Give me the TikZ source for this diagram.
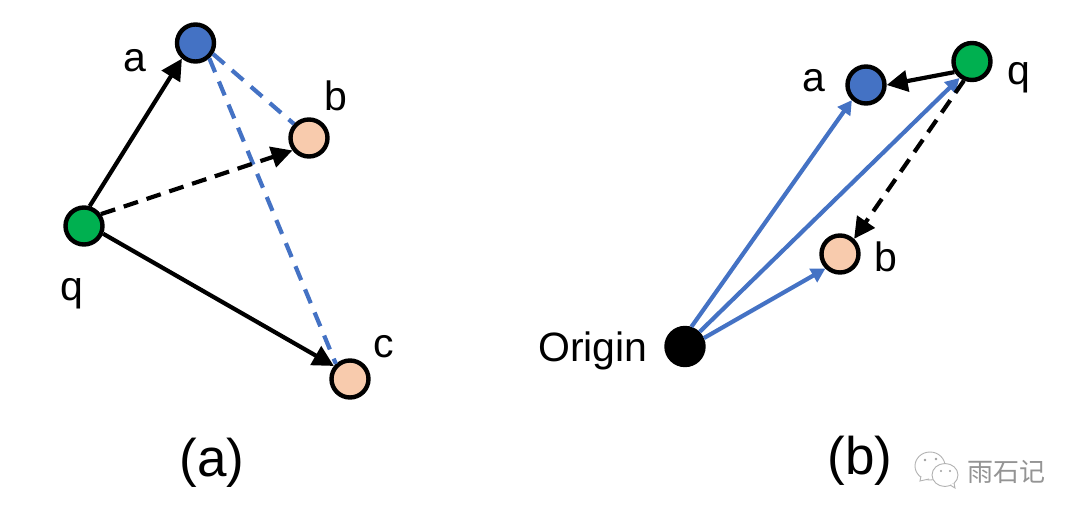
\documentclass[tikz,border=0pt]{standalone}
\usepackage{fontspec}
\setmainfont{Liberation Sans}
\newfontfamily\cjkwm{Noto Sans CJK SC}
\usetikzlibrary{arrows.meta}
\definecolor{nblue}{HTML}{4472C4}
\definecolor{ngreen}{HTML}{00B050}
\definecolor{npeach}{HTML}{F8CBAD}
\tikzset{
  dot/.style={circle,draw=black,line width=4.4pt,minimum size=37pt,inner sep=0pt,outer sep=2.2pt},
  lab/.style={font=\fontsize{41}{44}\selectfont,text=black,inner sep=0pt},
  captext/.style={font=\fontsize{53}{56}\selectfont,text=black,inner sep=0pt},
  blk/.style={black,line width=4.2pt,-{Triangle[length=21pt,width=21pt]}},
  blkd/.style={blk,dash pattern=on 15pt off 9pt},
  blu/.style={nblue,line width=4.2pt,-{Triangle[length=14pt,width=15pt]}},
  bld/.style={nblue,line width=4.2pt,dash pattern=on 15pt off 10pt},
  wmline/.style={draw=black!30,line width=0.9pt,fill=white},
}
\begin{document}
\begin{tikzpicture}[x=1pt,y=-1pt]
\useasboundingbox (0,0) rectangle (1080,519);
% panel (a)
\node[dot,fill=nblue] (a1) at (195.5,43) {};
\node[dot,fill=npeach] (b1) at (309,138) {};
\node[dot,fill=ngreen] (q1) at (84,226) {};
\node[dot,fill=npeach] (c1) at (350,379) {};
\draw[bld] (a1.-32) -- (b1.137);
\draw[bld] (a1.-48) -- (c1.133);
\draw[blk] (q1.74) -- (a1.229);
\draw[blkd] (q1.35) -- (b1.217);
\draw[blk] (q1.-22) -- (c1.141);
\node[lab] (la1) at (135,61) {a};
\node[lab] (lb1) at (336,96) {b};
\node[lab] (lq1) at (72,294) {q};
\node[lab] (lc1) at (384,347) {c};
\node[captext] (capa) at (212,463) {(a)};
% panel (b)
\node[dot,fill=nblue] (a2) at (866,85) {};
\node[dot,fill=ngreen] (q2) at (972,61.5) {};
\node[dot,fill=npeach] (b2) at (840,254) {};
\node[dot,fill=black] (o2) at (685,346.5) {};
\draw[blu] (o2.72) -- (a2.227);
\draw[blu] (o2.45) -- (q2.233);
\draw[blu] (o2.24) -- (b2.225);
\draw[blk] (q2.211) -- (a2.0);
\draw[blkd] (q2.247) -- (b2.47);
\node[lab] (la2) at (814,81) {a};
\node[lab] (lq2) at (1019,78) {q};
\node[lab] (lb2) at (886,257) {b};
\node[lab] (lo2) at (593,351) {Origin};
\node[captext] (capb) at (860,461) {(b)};
% watermark
\draw[wmline] (930,466) ellipse (15pt and 14pt);
\draw[wmline] (921,476) -- (920,481) -- (929,479);
\draw[wmline] (945,475) ellipse (13pt and 11.5pt);
\draw[wmline] (950,485) -- (955,488) -- (954,483);
\fill[black!38] (925,460) circle (1.3pt) (936,459) circle (1.3pt) (941,471) circle (1.2pt) (950,471) circle (1.2pt);
\node[inner sep=0pt,text=black!42,font=\cjkwm\fontsize{26}{28}\selectfont] (wm) at (1006,472) {雨石记};
\end{tikzpicture}
\end{document}
